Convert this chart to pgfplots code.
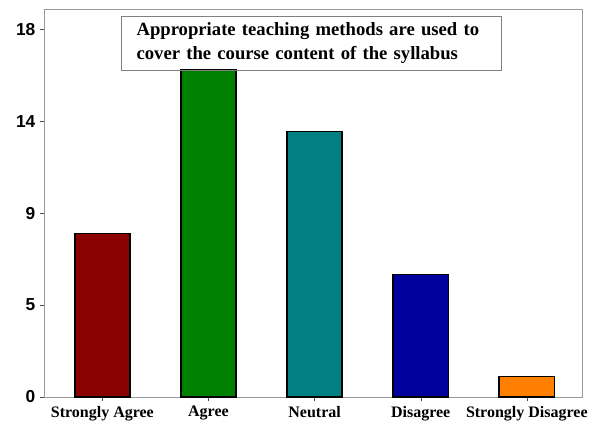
\documentclass[border=0pt]{standalone}
\usepackage{pgfplots}
\pgfplotsset{compat=1.18}
\usepackage{fontspec}
\setmainfont{Liberation Serif}
\setsansfont{Liberation Sans}
\definecolor{cSA}{HTML}{8B0000}
\definecolor{cA}{HTML}{008000}
\definecolor{cN}{HTML}{008080}
\definecolor{cD}{HTML}{00009C}
\definecolor{cSD}{HTML}{FF8000}
\begin{document}
\begin{tikzpicture}
\path[use as bounding box] (-33pt,-23.25pt) rectangle (413.25pt,297.75pt);
\begin{axis}[at={(0,0)},anchor=south west,
  scale only axis, width=403.5pt, height=291pt,
  xmin=-0.55, xmax=4.52, ymin=0, ymax=19,
  ytick={0,4.5,9,13.5,18}, yticklabels={0,5,9,14,18},
  xtick={0,1,2,3,4},
  xticklabels={Strongly Agree,Agree,Neutral,Disagree,Strongly Disagree},
  axis line style={gray!80, line width=0.6pt},
  tick align=outside, xtick pos=bottom, ytick pos=left,
  major tick length=3pt, tick style={black!70},
  yticklabel style={font=\sffamily\bfseries\fontsize{13}{13}\selectfont},
  xticklabel style={font=\bfseries\fontsize{12}{12}\selectfont, yshift=-0.5pt},
  /pgf/number format/assume math mode=true,
  clip=false]
\addplot[ybar, bar width=0.52, fill=cSA, draw=black, line width=1.2pt] coordinates {(0,8)};
\addplot[ybar, bar width=0.52, fill=cA, draw=black, line width=1.2pt] coordinates {(1,16)};
\addplot[ybar, bar width=0.52, fill=cN, draw=black, line width=1.2pt] coordinates {(2,13)};
\addplot[ybar, bar width=0.52, fill=cD, draw=black, line width=1.2pt] coordinates {(3,6)};
\addplot[ybar, bar width=0.52, fill=cSD, draw=black, line width=1.2pt] coordinates {(4,1)};
\node[draw=gray, line width=0.6pt, anchor=north west, minimum width=285pt, minimum height=41pt,
  text width=262pt, align=left, inner xsep=10pt, inner ysep=3pt,
  font=\bfseries\fontsize{14}{18}\selectfont]
  at (axis cs:0.174,18.68) {Appropriate teaching methods are used to\\cover the course content of the syllabus};
\end{axis}
\end{tikzpicture}
\end{document}
